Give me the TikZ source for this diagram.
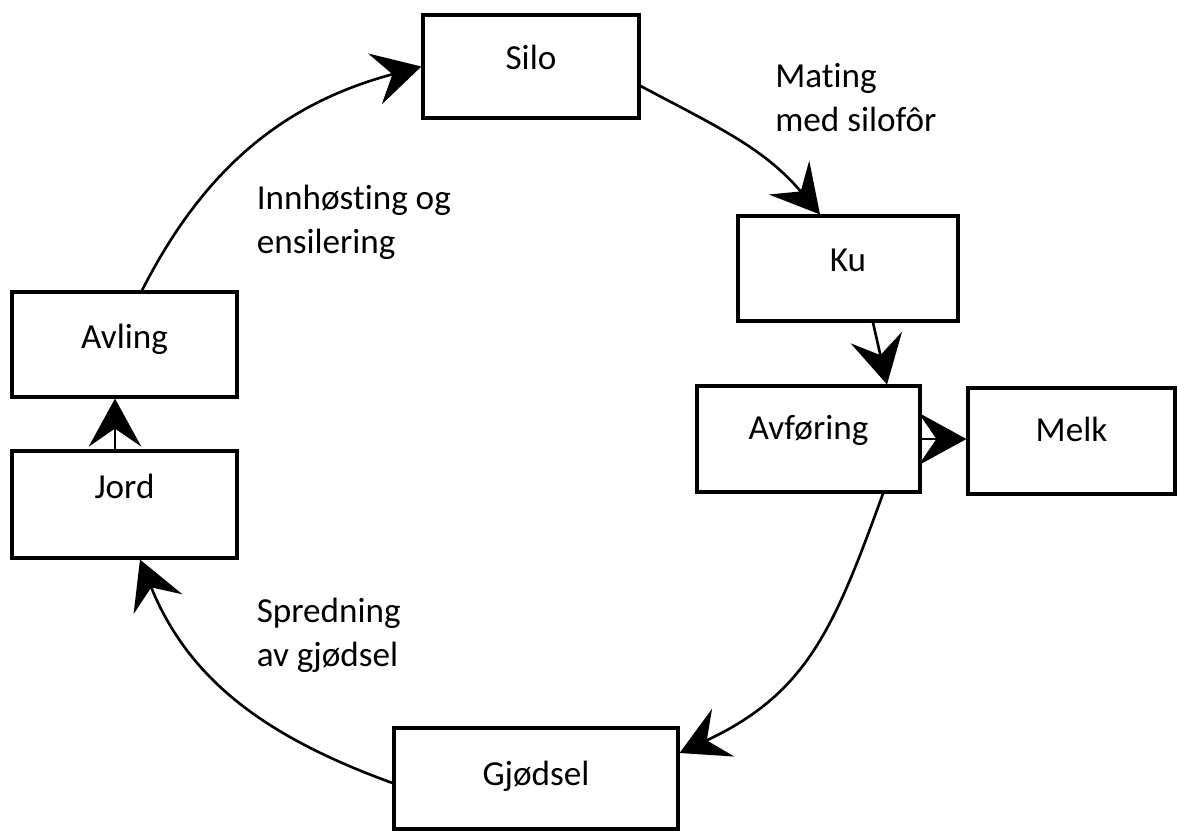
\documentclass[tikz,border=0pt]{standalone}
\usepackage{fontspec}
\setmainfont{Carlito}[Ligatures=NoCommon]
\usetikzlibrary{arrows.meta}
\tikzstyle{boks}=[draw, line width=1.8pt, minimum width=4.4cm,
  minimum height=2.1cm, text height=0.45cm, text depth=0.45cm, inner sep=0pt]
\tikzstyle{tekst}=[align=left, anchor=west, inner sep=0pt]
\tikzstyle{pil}=[draw, line width=1.5pt,
  -{Stealth[length=0.96cm, width=1.05cm, inset=0.36cm]}]
\newcommand{\boks}[3]{node (#1) [boks, #2] {#3}}

\begin{document}
\begin{tikzpicture}[font=\fontsize{20}{25}\selectfont]
  \useasboundingbox (0,0) rectangle (23.54,-16.62);

  % Draw the boxes
  \path (10.62,-1.33) \boks{silo}{minimum width=4.32cm, minimum height=2.06cm,
    text height=0.5cm, text depth=0.4cm}{Silo};
  \path (16.96,-5.37) \boks{ku}{text height=0.5cm, text depth=0.4cm}{Ku};
  \path (16.17,-8.78) \boks{avforing}{minimum width=4.46cm, minimum height=2.12cm}{Avføring};
  \path (21.43,-8.82) \boks{melk}{minimum width=4.14cm, minimum height=2.12cm}{Melk};
  \path (2.49,-6.89) \boks{avling}{minimum width=4.5cm,
    text height=0.52cm, text depth=0.38cm}{Avling};
  \path (2.49,-10.09) \boks{jord}{minimum width=4.5cm, minimum height=2.14cm,
    text depth=0.71cm}{Jord};
  \path (10.72,-15.57) \boks{gjodsel}{minimum width=5.68cm, minimum height=2.02cm,
    text height=0.58cm, text depth=0.32cm}{Gjødsel};

  % Labels along the cycle
  \node (mating) [tekst] at (15.5,-1.96) {Mating\\med silofôr};
  \node (innhosting) [tekst] at (5.13,-4.44) {Innhøsting og\\ensilering};
  \node (spredning) [tekst] at (5.13,-12.71) {Spredning\\av gjødsel};

  % Draw arrows between boxes
  \path [pil] ([xshift=0.35cm]avling.north) to[out=63, in=195] (silo.west);
  \path [pil] ([yshift=-0.39cm]silo.east) to[out=-28, in=130] ([xshift=-0.56cm]ku.north);
  \path [pil] ([xshift=0.5cm]ku.south) -- ([xshift=1.57cm]avforing.north);
  \path [pil] (avforing.east) -- (avforing.east -| melk.west);
  \path [pil] ([xshift=1.49cm]avforing.south) to[out=250, in=25, looseness=1.1]
    ([yshift=0.51cm]gjodsel.east);
  \path [pil] ([yshift=-0.09cm]gjodsel.west) to[out=160, in=-68] ([xshift=0.31cm]jord.south);
  \path [pil] ([xshift=-0.19cm]jord.north) -- ([xshift=-0.19cm]avling.south);
\end{tikzpicture}
\end{document}
